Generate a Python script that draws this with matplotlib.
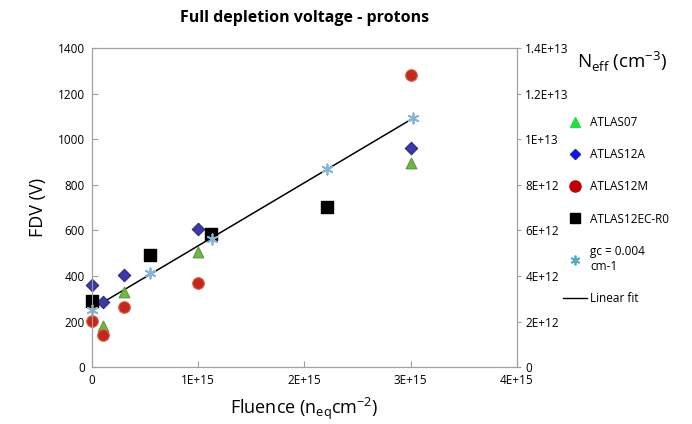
import matplotlib
matplotlib.use("Agg")
import matplotlib.pyplot as plt
from matplotlib.lines import Line2D

plt.rcParams["font.family"] = ["Open Sans", "DejaVu Sans"]

# fluence in units of 1E15 n_eq/cm2, FDV in V
a07_x = [0.1, 0.3, 1.0, 3.0]
a07_y = [180, 328, 506, 896]
a12a_x = [0.0, 0.1, 0.3, 1.0, 3.0]
a12a_y = [361, 284, 406, 604, 959]
a12m_x = [0.0, 0.1, 0.3, 1.0, 3.0]
a12m_y = [203, 140, 263, 370, 1281]
ec_x = [0.0, 0.55, 1.12, 2.21]
ec_y = [289, 493, 585, 702]
gc_x = [0.0, 0.55, 1.13, 2.21, 3.02]
gc_y = [250, 414, 560, 867, 1091]
fit_x = [0.0, 3.02]
fit_y = [256, 1091]

x_ticks = [0, 1, 2, 3, 4]
x_labels = ["0", "1E+15", "2E+15", "3E+15", "4E+15"]
y_ticks = list(range(0, 1401, 200))
r_ticks = [0, 2e12, 4e12, 6e12, 8e12, 1e13, 1.2e13, 1.4e13]
r_labels = ["0", "2E+12", "4E+12", "6E+12", "8E+12", "1E+13", "1.2E+13", "1.4E+13"]

fig = plt.figure(figsize=(6.92, 4.24), dpi=100)
ax = fig.add_axes([0.133, 0.134, 0.614, 0.753])
grey = "#a0a0a0"

ax.plot(fit_x, fit_y, color="black", lw=1.1, zorder=2)
ax.scatter(a07_x, a07_y, marker="^", s=60, color="#72b44a", edgecolors="#5a9a38", lw=0.8,
           zorder=3, clip_on=False)
ax.scatter(a12a_x, a12a_y, marker="D", s=40, color="#3d3aa6", edgecolors="#2d2a86", lw=0.8,
           zorder=3, clip_on=False)
ax.scatter(a12m_x, a12m_y, marker="o", s=70, color="#c02a1c", edgecolors="#e06040", lw=0.8,
           zorder=3, clip_on=False)
ax.scatter(ec_x, ec_y, marker="s", s=80, color="black", zorder=4, clip_on=False)
ax.scatter(gc_x, gc_y, marker=(6, 2, 0), s=55, color="#86b4d2", lw=1.3, zorder=5, clip_on=False)

ax.set_xlim(0, 4)
ax.set_ylim(0, 1400)
ax.set_xticks(x_ticks)
ax.set_xticklabels(x_labels)
ax.set_yticks(y_ticks)
ax.tick_params(axis="both", direction="in", length=4, color=grey, labelsize=8.5, pad=5)
for s in ax.spines.values():
    s.set_color(grey)

ax2 = ax.twinx()
ax2.set_ylim(0, 1.4e13)
ax2.set_yticks(r_ticks)
ax2.set_yticklabels(r_labels)
ax2.tick_params(axis="y", direction="out", length=3, color=grey, labelsize=8.5, pad=3)
for s in ax2.spines.values():
    s.set_color(grey)

ax.set_ylabel("FDV (V)", fontsize=13, labelpad=8)
ax.set_xlabel("Fluence (n$_{\\mathregular{eq}}$cm$^{\\mathregular{-2}}$)", fontsize=13, labelpad=6)
fig.text(0.44, 0.957, "Full depletion voltage - protons", ha="center", va="center",
         fontsize=11.5, fontweight="bold")
fig.text(0.834, 0.855, "N$_{\\mathregular{eff}}$ (cm$^{\\mathregular{-3}}$)", ha="left", va="center",
         fontsize=13.5)

handles = [
    Line2D([], [], ls="none", marker="^", ms=7, color="#22dd44"),
    Line2D([], [], ls="none", marker="D", ms=5, color="#1515e0"),
    Line2D([], [], ls="none", marker="o", ms=8, color="#c00000"),
    Line2D([], [], ls="none", marker="s", ms=7, color="black"),
    Line2D([], [], ls="none", marker=(6, 2, 0), ms=7, mew=1.3, color="#5aa8c8"),
    Line2D([], [], color="black", lw=1),
]
labels = ["ATLAS07", "ATLAS12A", "ATLAS12M", "ATLAS12EC-R0", "gc = 0.004\ncm-1", "Linear fit"]
fig.legend(handles, labels, loc="upper left", bbox_to_anchor=(0.805, 0.74), frameon=False,
           fontsize=8.5, handlelength=2.0, handletextpad=0.3, labelspacing=1.62, borderpad=0)

fig.savefig("out.png", dpi=100)
